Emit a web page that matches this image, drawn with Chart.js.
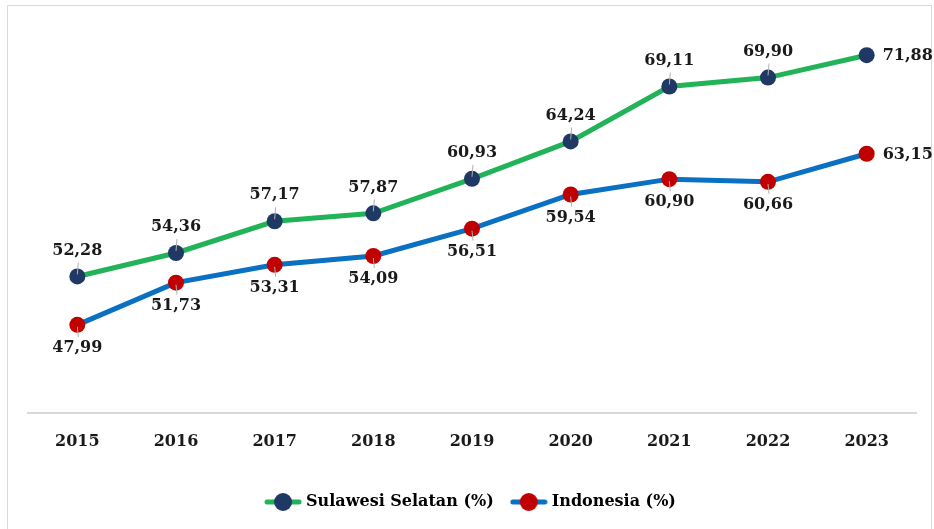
<!DOCTYPE html>
<html>
<head>
<meta charset="utf-8">
<script src="https://cdn.jsdelivr.net/npm/chart.js@4"></script>
<style>
  html, body { margin: 0; padding: 0; background: #fff; overflow: hidden; }
  #frame {
    position: absolute; left: 7px; top: 5px; width: 925px; height: 540px;
    border: 1px solid #d9d9d9; box-sizing: border-box;
  }
  #wrap { position: absolute; left: 0; top: 0; width: 934px; height: 529px; }
</style>
</head>
<body>
<div id="frame"></div>
<div id="wrap"><canvas id="chart"></canvas></div>
<script>
const years = ['2015', '2016', '2017', '2018', '2019', '2020', '2021', '2022', '2023'];
const sulselValues = [52.28, 54.36, 57.17, 57.87, 60.93, 64.24, 69.11, 69.90, 71.88];
const indonesiaValues = [47.99, 51.73, 53.31, 54.09, 56.51, 59.54, 60.90, 60.66, 63.15];

const LABEL_FONT = 'bold 16px "DejaVu Serif"';

// legend marker: a short line with a dot on it
function legendMarker(lineColor, dotColor) {
  const c = document.createElement('canvas');
  c.width = 38; c.height = 20;
  const ctx = c.getContext('2d');
  ctx.strokeStyle = lineColor;
  ctx.lineWidth = 5;
  ctx.lineCap = 'round';
  ctx.beginPath();
  ctx.moveTo(3, 10); ctx.lineTo(35, 10);
  ctx.stroke();
  ctx.fillStyle = dotColor;
  ctx.beginPath();
  ctx.arc(19, 10, 9, 0, Math.PI * 2);
  ctx.fill();
  return c;
}

// value labels, comma decimals, with a small leader line to the point
const valueLabels = {
  id: 'valueLabels',
  afterDatasetsDraw(chart) {
    const ctx = chart.ctx;
    ctx.save();
    ctx.font = LABEL_FONT;
    ctx.fillStyle = '#1a1a1a';
    chart.data.datasets.forEach((ds, di) => {
      const meta = chart.getDatasetMeta(di);
      meta.data.forEach((pt, i) => {
        const text = ds.data[i].toFixed(2).replace('.', ',');
        const last = i === ds.data.length - 1;
        let x = pt.x, y = pt.y;
        ctx.strokeStyle = '#b0b0b0';
        ctx.lineWidth = 1;
        if (last) {
          ctx.textAlign = 'left';
          ctx.textBaseline = 'middle';
          ctx.fillText(text, x + 16, y + 1);
          return;
        }
        ctx.textAlign = 'center';
        ctx.textBaseline = 'middle';
        ctx.beginPath();
        if (di === 0) {
          ctx.moveTo(x, y - 2); ctx.lineTo(x + 1, y - 14);
          ctx.stroke();
          ctx.fillText(text, x, y - 26);
        } else {
          ctx.moveTo(x, y + 2); ctx.lineTo(x + 1, y + 12);
          ctx.stroke();
          ctx.fillText(text, x, y + 23);
        }
      });
    });
    ctx.restore();
  }
};

new Chart(document.getElementById('chart'), {
  type: 'line',
  data: {
    labels: years,
    datasets: [
      {
        label: 'Sulawesi Selatan (%)',
        data: sulselValues,
        borderColor: '#22b358',
        backgroundColor: '#1f3864',
        pointBackgroundColor: '#1f3864',
        pointBorderWidth: 0,
        pointRadius: 8,
        borderWidth: 5,
        tension: 0
      },
      {
        label: 'Indonesia (%)',
        data: indonesiaValues,
        borderColor: '#0a70c2',
        backgroundColor: '#c00000',
        pointBackgroundColor: '#c00000',
        pointBorderWidth: 0,
        pointRadius: 8,
        borderWidth: 5,
        tension: 0
      }
    ]
  },
  options: {
    responsive: true,
    maintainAspectRatio: false,
    animation: false,
    layout: { padding: { left: 28, right: 18, top: 20, bottom: 9 } },
    scales: {
      x: {
        offset: true,
        grid: { display: false },
        border: { color: '#d9d9d9', width: 2 },
        ticks: {
          color: '#1a1a1a',
          font: { family: 'DejaVu Serif', weight: 'bold', size: 16 },
          padding: 11
        },
        afterFit(scale) {
          // leave room between the year labels and the legend
          scale.height += 12;
        }
      },
      y: {
        display: false,
        min: 40.2,
        max: 75
      }
    },
    plugins: {
      tooltip: { enabled: false },
      legend: {
        position: 'bottom',
        labels: {
          usePointStyle: true,
          pointStyleWidth: 30,
          color: '#1a1a1a',
          font: { family: 'DejaVu Serif', weight: 'bold', size: 16 },
          padding: 20,
          generateLabels(chart) {
            return chart.data.datasets.map((ds, i) => ({
              text: ds.label,
              pointStyle: i === 0 ? legendMarker('#22b358', '#1f3864') : legendMarker('#0a70c2', '#c00000'),
              fillStyle: ds.backgroundColor,
              strokeStyle: ds.borderColor,
              lineWidth: 0,
              hidden: false,
              datasetIndex: i
            }));
          }
        }
      }
    }
  },
  plugins: [valueLabels]
});
</script>
</body>
</html>
